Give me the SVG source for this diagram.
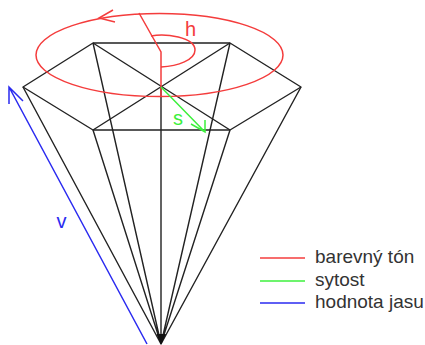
<svg xmlns="http://www.w3.org/2000/svg" width="425" height="345" viewBox="0 0 425 345">
<style>
.k{fill:none;stroke:#222;stroke-width:1.4;stroke-linejoin:round}
.r{fill:none;stroke:#f43c3c;stroke-width:1.5}
.g{fill:none;stroke:#3cf03c;stroke-width:1.5}
.b{fill:none;stroke:#2a2af0;stroke-width:1.5}
text{font-family:"Liberation Sans",Arial,sans-serif}
.l{font-size:19px;fill:#333}
.m{font-size:20px}
</style>
<rect width="425" height="345" fill="#fff"/>
<g id="cone">
<path class="k" d="M23 87L93 43H230L301 87L230 130H93Z"/>
<path class="k" d="M93 43L230 130M230 43L93 130"/>
<path class="k" d="M23 87L161 344M93 43L161 344M93 130L161 344M230 43L161 344M230 130L161 344M301 87L161 344M161 87V344"/>
<path d="M156.500 334L166 334L161 345Z" fill="#111"/>
</g>
<g id="connectors">
<g id="hue">
<ellipse class="r" cx="159.500" cy="55" rx="123.500" ry="41.500"/>
<path class="r" d="M139 13L156.500 44L161 52V97"/>
<path class="r" d="M151 36C165 33 195 37 195 50C195 60 178 66 161 67"/>
<path class="r" d="M113 10L99 18L115 22"/>
</g>
<g id="saturation">
<path class="g" d="M161 87L205 132M205 120L205 132L191 124"/>
</g>
<g id="value">
<path class="b" d="M147 344L9 87M9 104V87L23 101"/>
</g>
</g>
<g id="labels">
<text class="m" x="185" y="36" fill="#f43c3c">h</text>
<text class="m" x="173" y="125" fill="#3cf03c">s</text>
<text class="m" x="56.500" y="228" fill="#2a2af0">v</text>
</g>
<g id="legend">
<line class="r" x1="260" y1="258" x2="305" y2="258"/>
<line class="g" x1="260" y1="281" x2="305" y2="281"/>
<line class="b" x1="260" y1="303" x2="305" y2="303"/>
<text class="l" x="315" y="263">barevný tón</text>
<text class="l" x="315" y="286">sytost</text>
<text class="l" x="315" y="308">hodnota jasu</text>
</g>
</svg>
